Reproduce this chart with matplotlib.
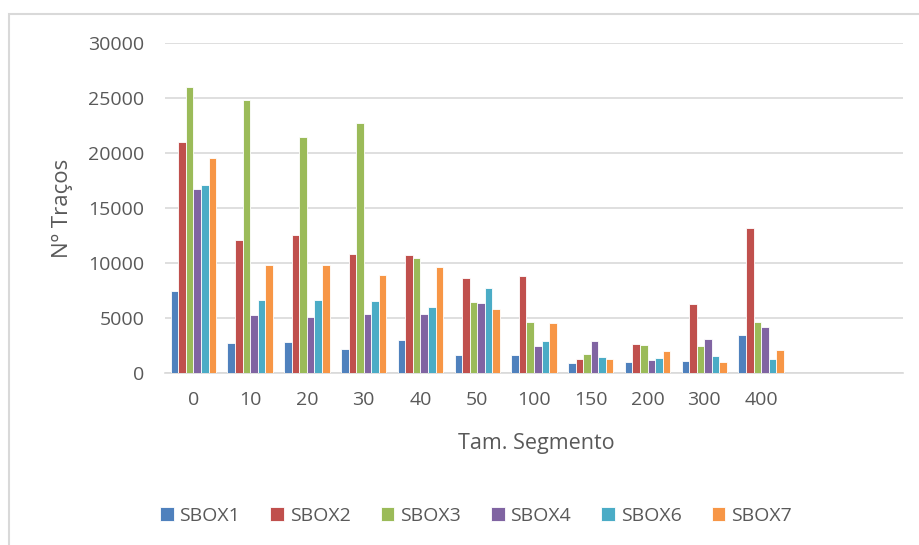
import numpy as np
import matplotlib.pyplot as plt
from matplotlib.patches import Rectangle

segment_sizes = ["0", "10", "20", "30", "40", "50", "100", "150", "200", "300", "400"]
series_names = ["SBOX1", "SBOX2", "SBOX3", "SBOX4", "SBOX6", "SBOX7"]

sbox1 = [7500, 2750, 2800, 2200, 3000, 1700, 1700, 900, 1050, 1100, 3500]
sbox2 = [21000, 12100, 12600, 10800, 10700, 8700, 8850, 1300, 2650, 6300, 13200]
sbox3 = [26000, 24800, 21450, 22750, 10500, 6500, 4650, 1750, 2600, 2500, 4650]
sbox4 = [16700, 5250, 5150, 5350, 5400, 6350, 2450, 2950, 1200, 3100, 4200]
sbox6 = [17100, 6700, 6650, 6550, 6050, 7750, 2900, 1500, 1400, 1600, 1300]
sbox7 = [19600, 9800, 9850, 8950, 9700, 5850, 4600, 1300, 2050, 1000, 2100]

colors = ["#4F81BD", "#C0504D", "#9BBB59", "#8064A2", "#4BACC6", "#F79646"]
text_color = "#595959"
font = "Open Sans"

fig = plt.figure(figsize=(9.2, 5.45), dpi=100)
ax = fig.add_axes([165 / 920, 1 - 373.3 / 545, 738 / 920, 330.3 / 545])

# light frame around the chart area (runs off the right and bottom edges)
fig.patches.append(Rectangle((8.5 / 920, -0.05), 1.1, 1 - 14 / 545 + 0.05,
                             transform=fig.transFigure, fill=False,
                             edgecolor="#d9d9d9", linewidth=1.5))

x = np.arange(len(segment_sizes))
group_width = 0.8
bar_w = group_width / len(series_names)
all_series = [sbox1, sbox2, sbox3, sbox4, sbox6, sbox7]
for i, (name, vals, c) in enumerate(zip(series_names, all_series, colors)):
    offset = -group_width / 2 + bar_w * (i + 0.5)
    ax.bar(x + offset, vals, width=bar_w, color=c, edgecolor="white",
           linewidth=0.6, label=name, zorder=3)

ax.set_xlim(-0.5, 12.5)
ax.set_ylim(0, 30000)
ax.set_yticks(range(0, 30001, 5000))
ax.set_xticks(x)
ax.set_xticklabels(segment_sizes)
ax.grid(axis="y", color="#d9d9d9", linewidth=1.2, zorder=0)
ax.set_axisbelow(True)

for side in ["top", "right", "left"]:
    ax.spines[side].set_visible(False)
ax.spines["bottom"].set_color("#d9d9d9")
ax.spines["bottom"].set_linewidth(1.2)

ax.tick_params(axis="both", length=0, labelsize=14, labelcolor=text_color)
ax.tick_params(axis="y", pad=15)
ax.tick_params(axis="x", pad=13)
for lbl in ax.get_xticklabels() + ax.get_yticklabels():
    lbl.set_fontfamily(font)

fig.text(536 / 920, 1 - 444 / 545, "Tam. Segmento", ha="center", va="center",
         fontsize=15.5, color=text_color, family=font)
fig.text(62 / 920, 1 - 208 / 545, "Nº Traços", ha="center", va="center",
         rotation=90, fontsize=16, color=text_color, family=font)

leg = fig.legend(loc="center", bbox_to_anchor=(476 / 920, 1 - 516 / 545), ncol=6,
                 frameon=False, handlelength=0.7, handleheight=0.7, handletextpad=0.3,
                 columnspacing=1.55, prop={"family": font, "size": 14})
for t in leg.get_texts():
    t.set_color(text_color)

fig.savefig("out.png", dpi=100)
